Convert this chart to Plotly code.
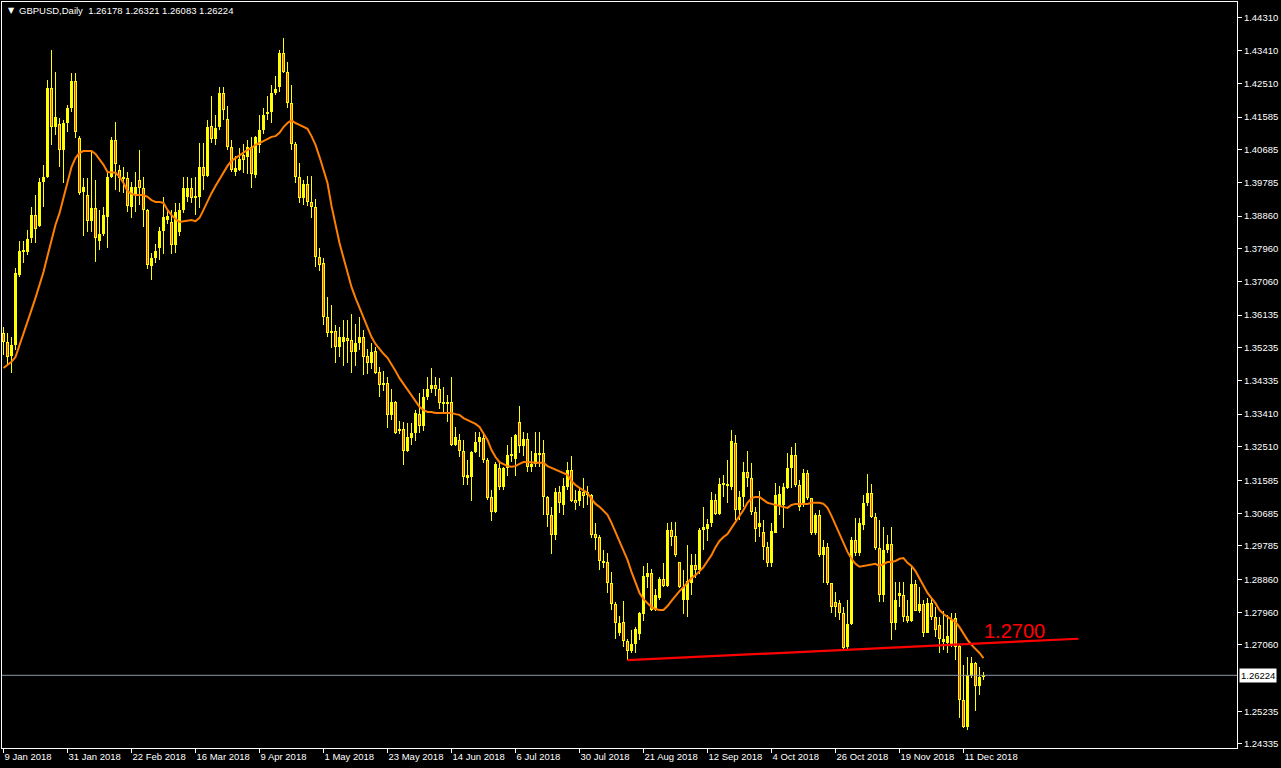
import plotly.graph_objects as go

# ---------------- data ----------------
symbol_header = "GBPUSD,Daily  1.26178 1.26321 1.26083 1.26224"

opens = [
    1.3564, 1.3539, 1.3501, 1.3531, 1.3724, 1.3788, 1.3787, 1.3825, 1.3888, 1.3860,
    1.3979, 1.3993, 1.4238, 1.4131, 1.4139, 1.4068, 1.4142, 1.4183, 1.4258, 1.4100,
    1.3951, 1.3944, 1.3873, 1.3908, 1.3817, 1.3837, 1.3883, 1.3993, 1.4095, 1.4013,
    1.3987, 1.3990, 1.3910, 1.3943, 1.3985, 1.3963, 1.3903, 1.3750, 1.3770, 1.3798,
    1.3845, 1.3876, 1.3870, 1.3806, 1.3842, 1.3903, 1.3938, 1.3963, 1.3936, 1.3938,
    1.4021, 1.3996, 1.4134, 1.4098, 1.4131, 1.4225, 1.4153, 1.4076, 1.4007, 1.4013,
    1.4054, 1.4049, 1.4076, 1.3999, 1.4081, 1.4123, 1.4168, 1.4172, 1.4225, 1.4241,
    1.4335, 1.4282, 1.4197, 1.4084, 1.3993, 1.3935, 1.3974, 1.3924, 1.3910, 1.3773,
    1.3757, 1.3608, 1.3564, 1.3570, 1.3525, 1.3540, 1.3550, 1.3545, 1.3512, 1.3537,
    1.3553, 1.3501, 1.3481, 1.3515, 1.3457, 1.3421, 1.3426, 1.3338, 1.3374, 1.3296,
    1.3300, 1.3240, 1.3275, 1.3289, 1.3341, 1.3308, 1.3388, 1.3410, 1.3421, 1.3410,
    1.3374, 1.3369, 1.3374, 1.3256, 1.3270, 1.3240, 1.3168, 1.3168, 1.3237, 1.3264,
    1.3275, 1.3215, 1.3113, 1.3072, 1.3193, 1.3140, 1.3193, 1.3232, 1.3218, 1.3319,
    1.3253, 1.3273, 1.3196, 1.3204, 1.3229, 1.3234, 1.3113, 1.3063, 1.3008, 1.3126,
    1.3091, 1.3140, 1.3187, 1.3105, 1.3102, 1.3126, 1.3118, 1.3118, 1.3011, 1.3003,
    1.2937, 1.2934, 1.2876, 1.2818, 1.2739, 1.2769, 1.2717, 1.2689, 1.2709, 1.2736,
    1.2791, 1.2893, 1.2904, 1.2802, 1.2835, 1.2887, 1.2868, 1.3022, 1.3005, 1.2934,
    1.2831, 1.2830, 1.2876, 1.2926, 1.2912, 1.3022, 1.3025, 1.3041, 1.3105, 1.3066,
    1.3146, 1.3149, 1.3141, 1.3262, 1.3077, 1.3113, 1.3182, 1.3165, 1.3072, 1.3030,
    1.3016, 1.2975, 1.2931, 1.3014, 1.3088, 1.3091, 1.3138, 1.3193, 1.3229, 1.3146,
    1.3091, 1.3179, 1.3110, 1.3013, 1.3064, 1.2953, 1.2976, 1.2876, 1.2825, 1.2822,
    1.2793, 1.2700, 1.2764, 1.2995, 1.2960, 1.3036, 1.3096, 1.3125, 1.3059, 1.2972,
    1.2843, 1.2967, 1.2984, 1.2766, 1.2841, 1.2843, 1.2786, 1.2773, 1.2874, 1.2800,
    1.2820, 1.2740, 1.2822, 1.2782, 1.2761, 1.2713, 1.2711, 1.2706, 1.2780, 1.2703,
    1.2555, 1.2480, 1.2620, 1.2656, 1.2593, 1.26178,
]

highs = [
    1.3581, 1.3564, 1.3553, 1.3743, 1.3817, 1.3817, 1.3848, 1.3911, 1.3943, 1.3990,
    1.4026, 1.4260, 1.4343, 1.4282, 1.4156, 1.4150, 1.4192, 1.4280, 1.4280, 1.4106,
    1.3991, 1.3990, 1.4062, 1.3985, 1.3903, 1.3911, 1.4004, 1.4104, 1.4145, 1.4026,
    1.4021, 1.4007, 1.3979, 1.4007, 1.4068, 1.3993, 1.3906, 1.3784, 1.3810, 1.3856,
    1.3938, 1.3905, 1.3903, 1.3922, 1.3922, 1.3993, 1.3993, 1.3990, 1.3993, 1.4087,
    1.4087, 1.4150, 1.4216, 1.4163, 1.4241, 1.4241, 1.4189, 1.4095, 1.4051, 1.4073,
    1.4084, 1.4095, 1.4104, 1.4106, 1.4164, 1.4183, 1.4216, 1.4247, 1.4271, 1.4343,
    1.4376, 1.4310, 1.4247, 1.4090, 1.4032, 1.3985, 1.3996, 1.3996, 1.3932, 1.3798,
    1.3770, 1.3663, 1.3640, 1.3586, 1.3580, 1.3600, 1.3600, 1.3617, 1.3589, 1.3608,
    1.3573, 1.3520, 1.3537, 1.3526, 1.3470, 1.3460, 1.3443, 1.3410, 1.3377, 1.3322,
    1.3319, 1.3316, 1.3316, 1.3352, 1.3399, 1.3410, 1.3443, 1.3468, 1.3443, 1.3440,
    1.3416, 1.3394, 1.3443, 1.3305, 1.3286, 1.3270, 1.3215, 1.3240, 1.3292, 1.3292,
    1.3292, 1.3220, 1.3132, 1.3210, 1.3209, 1.3196, 1.3256, 1.3278, 1.3286, 1.3363,
    1.3292, 1.3289, 1.3240, 1.3292, 1.3292, 1.3270, 1.3115, 1.3085, 1.3137, 1.3143,
    1.3165, 1.3209, 1.3226, 1.3132, 1.3140, 1.3165, 1.3143, 1.3120, 1.3041, 1.3008,
    1.2967, 1.2959, 1.2907, 1.2824, 1.2786, 1.2827, 1.2722, 1.2747, 1.2755, 1.2796,
    1.2923, 1.2932, 1.2915, 1.2860, 1.2893, 1.2932, 1.3041, 1.3044, 1.3044, 1.2934,
    1.2912, 1.2981, 1.2956, 1.2956, 1.3027, 1.3085, 1.3052, 1.3126, 1.3121, 1.3165,
    1.3173, 1.3215, 1.3297, 1.3284, 1.3129, 1.3209, 1.3239, 1.3207, 1.3085, 1.3129,
    1.3050, 1.2990, 1.3041, 1.3151, 1.3143, 1.3151, 1.3234, 1.3251, 1.3262, 1.3160,
    1.3189, 1.3187, 1.3110, 1.3068, 1.3077, 1.2995, 1.2986, 1.2876, 1.2853, 1.2830,
    1.2811, 1.2830, 1.3004, 1.3055, 1.3054, 1.3119, 1.3176, 1.3149, 1.3068, 1.3050,
    1.3031, 1.3009, 1.3031, 1.2880, 1.2880, 1.2880, 1.2830, 1.2921, 1.2885, 1.2866,
    1.2830, 1.2834, 1.2839, 1.2811, 1.2784, 1.2798, 1.2788, 1.2793, 1.2794, 1.2706,
    1.2651, 1.2673, 1.2673, 1.2659, 1.2645, 1.26321,
]

lows = [
    1.3504, 1.3476, 1.3454, 1.3518, 1.3718, 1.3757, 1.3778, 1.3811, 1.3811, 1.3856,
    1.3911, 1.3990, 1.4081, 1.4109, 1.4021, 1.3977, 1.4117, 1.4172, 1.4100, 1.3945,
    1.3831, 1.3842, 1.3842, 1.3759, 1.3793, 1.3830, 1.3798, 1.3990, 1.3958, 1.3952,
    1.3950, 1.3897, 1.3880, 1.3897, 1.3917, 1.3856, 1.3740, 1.3710, 1.3757, 1.3765,
    1.3783, 1.3865, 1.3782, 1.3784, 1.3830, 1.3895, 1.3924, 1.3922, 1.3888, 1.3908,
    1.3958, 1.3993, 1.4087, 1.4081, 1.4123, 1.4150, 1.4068, 1.4007, 1.3995, 1.4010,
    1.4004, 1.4002, 1.3963, 1.3990, 1.4059, 1.4112, 1.4150, 1.4142, 1.4219, 1.4227,
    1.4280, 1.4183, 1.4068, 1.3977, 1.3922, 1.3916, 1.3913, 1.3880, 1.3745, 1.3735,
    1.3586, 1.3553, 1.3523, 1.3482, 1.3498, 1.3474, 1.3482, 1.3454, 1.3474, 1.3518,
    1.3448, 1.3451, 1.3465, 1.3451, 1.3388, 1.3405, 1.3303, 1.3325, 1.3286, 1.3286,
    1.3201, 1.3237, 1.3256, 1.3267, 1.3289, 1.3294, 1.3380, 1.3399, 1.3391, 1.3355,
    1.3347, 1.3320, 1.3253, 1.3253, 1.3223, 1.3146, 1.3146, 1.3102, 1.3234, 1.3223,
    1.3206, 1.3105, 1.3047, 1.3069, 1.3132, 1.3132, 1.3171, 1.3209, 1.3171, 1.3234,
    1.3226, 1.3182, 1.3182, 1.3196, 1.3196, 1.3063, 1.3030, 1.2956, 1.2995, 1.3069,
    1.3063, 1.3132, 1.3099, 1.3077, 1.3088, 1.3082, 1.3090, 1.3000, 1.2967, 1.2913,
    1.2918, 1.2849, 1.2802, 1.2722, 1.2731, 1.2700, 1.2665, 1.2684, 1.2684, 1.2720,
    1.2772, 1.2863, 1.2800, 1.2800, 1.2830, 1.2865, 1.2866, 1.2978, 1.2948, 1.2864,
    1.2790, 1.2783, 1.2844, 1.2890, 1.2901, 1.2967, 1.2992, 1.3030, 1.3063, 1.3063,
    1.3113, 1.3096, 1.3132, 1.3050, 1.3050, 1.3085, 1.3141, 1.3063, 1.2990, 1.3002,
    1.2940, 1.2920, 1.2920, 1.3014, 1.3063, 1.3028, 1.3135, 1.3138, 1.3140, 1.3074,
    1.3085, 1.3105, 1.3009, 1.3009, 1.2949, 1.2876, 1.2871, 1.2793, 1.2784, 1.2775,
    1.2692, 1.2692, 1.2761, 1.2950, 1.2950, 1.3022, 1.3087, 1.3054, 1.2967, 1.2825,
    1.2825, 1.2958, 1.2720, 1.2747, 1.2811, 1.2770, 1.2766, 1.2770, 1.2798, 1.2793,
    1.2729, 1.2738, 1.2775, 1.2729, 1.2683, 1.2692, 1.2683, 1.2700, 1.2665, 1.2504,
    1.2477, 1.2472, 1.2615, 1.2524, 1.2568, 1.26083,
]

closes = [
    1.3539, 1.3498, 1.3531, 1.3729, 1.3789, 1.3793, 1.3824, 1.3888, 1.3850, 1.3979,
    1.3993, 1.4238, 1.4131, 1.4158, 1.4068, 1.4142, 1.4183, 1.4258, 1.4117, 1.3950,
    1.3965, 1.3873, 1.3908, 1.3825, 1.3837, 1.3888, 1.3993, 1.4095, 1.4029, 1.3990,
    1.3993, 1.3913, 1.3965, 1.3965, 1.3963, 1.3903, 1.3751, 1.3770, 1.3790, 1.3845,
    1.3884, 1.3887, 1.3806, 1.3897, 1.3903, 1.3963, 1.3963, 1.3935, 1.3938, 1.4021,
    1.3996, 1.4131, 1.4098, 1.4128, 1.4225, 1.4178, 1.4076, 1.4013, 1.4018, 1.4043,
    1.4040, 1.4076, 1.4002, 1.4104, 1.4123, 1.4164, 1.4172, 1.4225, 1.4236, 1.4335,
    1.4282, 1.4197, 1.4084, 1.3993, 1.3935, 1.3974, 1.3924, 1.3910, 1.3773, 1.3751,
    1.3608, 1.3564, 1.3570, 1.3525, 1.3553, 1.3553, 1.3543, 1.3512, 1.3537, 1.3553,
    1.3498, 1.3481, 1.3512, 1.3454, 1.3421, 1.3427, 1.3338, 1.3374, 1.3289, 1.3300,
    1.3240, 1.3278, 1.3289, 1.3344, 1.3308, 1.3388, 1.3410, 1.3421, 1.3410, 1.3372,
    1.3369, 1.3374, 1.3256, 1.3278, 1.3240, 1.3168, 1.3173, 1.3237, 1.3264, 1.3278,
    1.3215, 1.3110, 1.3072, 1.3204, 1.3140, 1.3193, 1.3229, 1.3226, 1.3284, 1.3253,
    1.3273, 1.3196, 1.3204, 1.3234, 1.3234, 1.3113, 1.3063, 1.3008, 1.3126, 1.3096,
    1.3143, 1.3187, 1.3102, 1.3096, 1.3129, 1.3115, 1.3126, 1.3008, 1.3000, 1.2937,
    1.2934, 1.2876, 1.2818, 1.2766, 1.2766, 1.2717, 1.2689, 1.2709, 1.2750, 1.2794,
    1.2896, 1.2904, 1.2802, 1.2843, 1.2887, 1.2868, 1.3022, 1.3003, 1.2953, 1.2866,
    1.2866, 1.2882, 1.2926, 1.2912, 1.3022, 1.3030, 1.3040, 1.3105, 1.3066, 1.3149,
    1.3152, 1.3143, 1.3267, 1.3077, 1.3113, 1.3182, 1.3165, 1.3072, 1.3025, 1.3041,
    1.2975, 1.2931, 1.3019, 1.3118, 1.3121, 1.3140, 1.3193, 1.3229, 1.3146, 1.3085,
    1.3179, 1.3110, 1.3013, 1.3064, 1.2953, 1.2976, 1.2876, 1.2811, 1.2811, 1.2793,
    1.2697, 1.2764, 1.2995, 1.2958, 1.3041, 1.3096, 1.3125, 1.3059, 1.2972, 1.2843,
    1.2967, 1.2984, 1.2766, 1.2830, 1.2848, 1.2784, 1.2773, 1.2874, 1.2800, 1.2819,
    1.2740, 1.2822, 1.2782, 1.2747, 1.2722, 1.2722, 1.2731, 1.2775, 1.2701, 1.2555,
    1.2481, 1.2623, 1.2656, 1.2593, 1.2618, 1.26224,
]

# moving average line as drawn on the chart
ma_values = [
    1.3468, 1.3476, 1.3485, 1.3498, 1.3529, 1.3562, 1.3595, 1.3628, 1.3661, 1.3694,
    1.3732, 1.3776, 1.3823, 1.3862, 1.3894, 1.3936, 1.3983, 1.4021, 1.4046, 1.4060,
    1.4065, 1.4065, 1.4065, 1.4057, 1.4043, 1.4027, 1.4007, 1.4005, 1.4005, 1.3994,
    1.3977, 1.3955, 1.3947, 1.3944, 1.3944, 1.3944, 1.3939, 1.3930, 1.3925, 1.3925,
    1.3922, 1.3903, 1.3889, 1.3878, 1.3870, 1.3872, 1.3875, 1.3875, 1.3872, 1.3881,
    1.3903, 1.3927, 1.3949, 1.3969, 1.3988, 1.4007, 1.4024, 1.4038, 1.4046, 1.4054,
    1.4062, 1.4068, 1.4073, 1.4082, 1.4087, 1.4093, 1.4098, 1.4104, 1.4106, 1.4115,
    1.4131, 1.4142, 1.4150, 1.4142, 1.4137, 1.4131, 1.4126, 1.4106, 1.4082, 1.4049,
    1.4013, 1.3977, 1.3914, 1.3859, 1.3812, 1.3771, 1.3729, 1.3691, 1.3661, 1.3633,
    1.3608, 1.3581, 1.3553, 1.3534, 1.3520, 1.3507, 1.3496, 1.3479, 1.3460, 1.3440,
    1.3424, 1.3407, 1.3391, 1.3374, 1.3361, 1.3352, 1.3347, 1.3347, 1.3344, 1.3344,
    1.3344, 1.3344, 1.3344, 1.3341, 1.3339, 1.3330, 1.3325, 1.3319, 1.3314, 1.3306,
    1.3286, 1.3270, 1.3242, 1.3223, 1.3209, 1.3204, 1.3198, 1.3196, 1.3198, 1.3204,
    1.3209, 1.3209, 1.3207, 1.3207, 1.3207, 1.3207, 1.3198, 1.3193, 1.3187, 1.3182,
    1.3179, 1.3174, 1.3157, 1.3146, 1.3138, 1.3130, 1.3124, 1.3108, 1.3094, 1.3086,
    1.3075, 1.3064, 1.3042, 1.3017, 1.2992, 1.2967, 1.2940, 1.2907, 1.2876, 1.2849,
    1.2832, 1.2821, 1.2810, 1.2805, 1.2802, 1.2802, 1.2813, 1.2827, 1.2841, 1.2854,
    1.2865, 1.2879, 1.2890, 1.2898, 1.2909, 1.2920, 1.2937, 1.2953, 1.2975, 1.2992,
    1.3003, 1.3011, 1.3028, 1.3044, 1.3061, 1.3077, 1.3097, 1.3110, 1.3113, 1.3113,
    1.3105, 1.3097, 1.3094, 1.3091, 1.3088, 1.3086, 1.3083, 1.3091, 1.3094, 1.3094,
    1.3094, 1.3094, 1.3097, 1.3097, 1.3097, 1.3094, 1.3083, 1.3061, 1.3036, 1.3014,
    1.2989, 1.2962, 1.2943, 1.2929, 1.2921, 1.2923, 1.2926, 1.2929, 1.2929, 1.2923,
    1.2929, 1.2934, 1.2934, 1.2937, 1.2943, 1.2945, 1.2932, 1.2923, 1.2909, 1.2890,
    1.2868, 1.2849, 1.2835, 1.2821, 1.2802, 1.2791, 1.2783, 1.2777, 1.2769, 1.2755,
    1.2736, 1.2720, 1.2706, 1.2695, 1.2684, 1.2670,
]

# x-axis date labels (bar index -> label)
date_tick_bars = [0, 16, 32, 48, 64, 80, 96, 112, 128, 144, 160, 176, 192, 208, 224, 240]
date_tick_labels = ["9 Jan 2018", "31 Jan 2018", "22 Feb 2018", "16 Mar 2018", "9 Apr 2018",
                    "1 May 2018", "23 May 2018", "14 Jun 2018", "6 Jul 2018", "30 Jul 2018",
                    "21 Aug 2018", "12 Sep 2018", "4 Oct 2018", "26 Oct 2018", "19 Nov 2018",
                    "11 Dec 2018"]

# price-axis labels
price_ticks = [1.44310, 1.43410, 1.42510, 1.41585, 1.40685, 1.39785, 1.38860, 1.37960,
               1.37060, 1.36135, 1.35235, 1.34335, 1.33410, 1.32510, 1.31585, 1.30685,
               1.29785, 1.28860, 1.27960, 1.27060, 1.25235, 1.24335]

last_price = 1.26224

# support trend line and its label
trend_bars = [156, 268.75]
trend_prices = [1.2664, 1.2723]
trend_label = "1.2700"
trend_label_bar = 244.5
trend_label_price = 1.2745

# ---------------- styling ----------------
YELLOW = "#ffff00"
BEAR_INNER = "#ff4500"
MA_COLOR = "#ff8000"
FONT = "Liberation Sans"

Y_MIN, Y_MAX = 1.24224, 1.44750
PLOT_H = 746
PX = (Y_MAX - Y_MIN) / PLOT_H   # price per pixel

n = len(closes)
assert len(opens) == n and len(highs) == n and len(lows) == n and len(ma_values) == n
idx = list(range(n))

fig = go.Figure()

# wicks
fig.add_trace(go.Bar(
    x=idx, y=[h - l for h, l in zip(highs, lows)], base=lows, width=0.25,
    marker=dict(color=YELLOW, line=dict(width=0)), hoverinfo="skip"))

# bodies
fig.add_trace(go.Bar(
    x=idx, y=[max(abs(c - o), PX) for o, c in zip(opens, closes)],
    base=[min(o, c) for o, c in zip(opens, closes)], width=0.75,
    marker=dict(color=YELLOW, line=dict(width=0)), hoverinfo="skip"))

# bearish body interior
bx, bb, bh = [], [], []
for i, (o, c) in enumerate(zip(opens, closes)):
    if o - c > 2.2 * PX:
        bx.append(i)
        bb.append(c + PX)
        bh.append(o - c - 2 * PX)
fig.add_trace(go.Bar(
    x=bx, y=bh, base=bb, width=0.25,
    marker=dict(color=BEAR_INNER, line=dict(width=0)), hoverinfo="skip"))

# moving average
fig.add_trace(go.Scatter(
    x=idx, y=ma_values, mode="lines",
    line=dict(color=MA_COLOR, width=2), hoverinfo="skip"))

# trend line
fig.add_trace(go.Scatter(
    x=trend_bars, y=trend_prices, mode="lines",
    line=dict(color="#ff0000", width=2.2), hoverinfo="skip"))

# current price line
fig.add_shape(type="line", xref="paper", yref="y", x0=0, x1=1,
              y0=last_price, y1=last_price,
              line=dict(color="#8c96a0", width=1))

# annotations
fig.add_annotation(x=trend_label_bar, y=trend_label_price, text=trend_label,
                   showarrow=False, xanchor="left", yanchor="middle",
                   font=dict(family=FONT, size=20, color="#ff0000"))

fig.add_annotation(xref="paper", yref="y", x=1, y=last_price, text="1.26224",
                   showarrow=False, xanchor="left", yanchor="middle", xshift=2,
                   bgcolor="#ffffff", borderpad=1,
                   font=dict(family=FONT, size=9.5, color="#000000"))

fig.add_annotation(xref="paper", yref="paper", x=0.0032, y=0.9885, text="▼",
                   showarrow=False, xanchor="left", yanchor="middle",
                   font=dict(family="DejaVu Sans", size=8, color="#ffffff"))
fig.add_annotation(xref="paper", yref="paper", x=0.0125, y=0.9885, text=symbol_header,
                   showarrow=False, xanchor="left", yanchor="middle",
                   font=dict(family=FONT, size=9.5, color="#ffffff"))

fig.update_layout(
    width=1281, height=768,
    margin=dict(l=2, r=44, t=2, b=20, pad=0),
    paper_bgcolor="#000000", plot_bgcolor="#000000",
    showlegend=False, barmode="overlay", bargap=0,
    hovermode=False,
    xaxis=dict(
        range=[-0.375, 308.375], tickmode="array",
        tickvals=date_tick_bars, ticktext=date_tick_labels,
        ticks="outside", ticklen=4, tickcolor="#ffffff", tickwidth=1,
        showline=True, linecolor="#ffffff", linewidth=1, mirror=True,
        showgrid=False, zeroline=False,
        ticklabelposition="outside right",
        tickfont=dict(family=FONT, size=9.5, color="#ffffff"),
        fixedrange=True,
    ),
    yaxis=dict(
        range=[Y_MIN, Y_MAX], side="right", tickmode="array",
        tickvals=price_ticks, ticktext=[f"{p:.5f}" for p in price_ticks],
        ticks="outside", ticklen=4, tickcolor="#ffffff", tickwidth=1,
        showline=True, linecolor="#ffffff", linewidth=1, mirror=True,
        showgrid=False, zeroline=False,
        tickfont=dict(family=FONT, size=9.5, color="#ffffff"),
        fixedrange=True,
    ),
)

fig.write_html(
    "out.html",
    config={"displayModeBar": False},
    post_script="document.body.style.margin='0';document.body.style.background='#000';"
                "document.body.style.overflow='hidden';",
)
